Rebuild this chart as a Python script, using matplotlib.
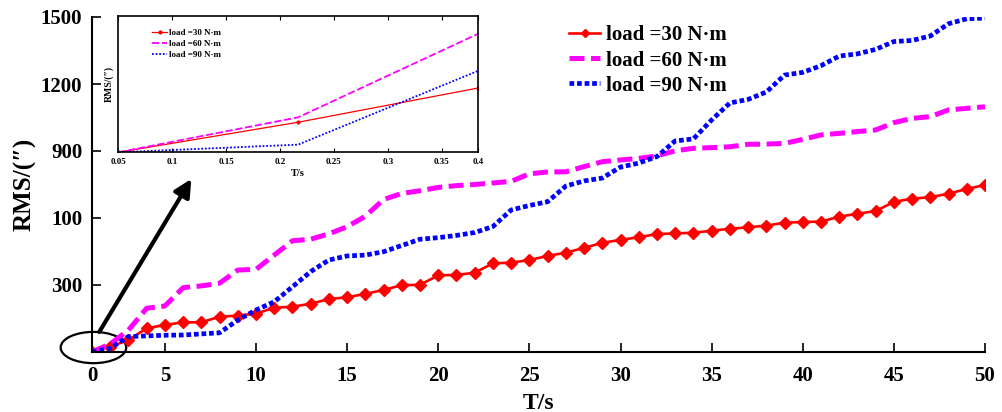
import matplotlib
matplotlib.use("Agg")
import matplotlib.pyplot as plt
from matplotlib.patches import Ellipse
import numpy as np

plt.rcParams['font.family'] = ['Liberation Serif', 'DejaVu Serif']
plt.rcParams['font.weight'] = 'bold'
plt.rcParams['mathtext.default'] = 'regular'

# ---------------- data ----------------
t = list(range(1, 51))
load30 = [0, 24, 54, 106, 121, 133, 133, 158, 163, 172, 198, 203, 216, 237, 245, 260, 278, 299, 301, 343,
          345, 355, 397, 400, 412, 430, 445, 466, 489, 502, 514, 528, 531, 534, 543, 552, 558, 566, 579, 582,
          584, 606, 619, 631, 672, 687, 693, 709, 730, 748]
load60 = [0, 36, 98, 196, 206, 288, 296, 308, 367, 370, 434, 498, 505, 529, 561, 608, 683, 710, 722, 737,
          745, 750, 757, 764, 798, 806, 807, 830, 852, 860, 867, 878, 901, 912, 915, 919, 930, 931, 934, 952,
          972, 979, 987, 994, 1027, 1046, 1054, 1084, 1091, 1098]
load90 = [0, 17, 69, 72, 75, 76, 81, 86, 143, 188, 225, 292, 360, 412, 430, 434, 449, 477, 505, 512,
          522, 535, 562, 636, 656, 673, 743, 766, 779, 828, 846, 875, 945, 954, 1039, 1115, 1131, 1164, 1240, 1252,
          1282, 1325, 1335, 1355, 1390, 1395, 1415, 1470, 1492, 1495]
labels = ['load =30 N·m', 'load =60 N·m', 'load =90 N·m']

xticks = [1, 5, 10, 15, 20, 25, 30, 35, 40, 45, 50]
xticklabels = ['0', '5', '10', '15', '20', '25', '30', '35', '40', '45', '50']
yticks = [300, 600, 900, 1200, 1500]
yticklabels = ['300', '100', '900', '1200', '1500']

# inset data
t_in = [0.05, 0.2167, 0.3833]
in30 = [0.0, 0.22, 0.47]
in60 = [0.0, 0.256, 0.866]
in90 = [0.0, 0.056, 0.595]
in_xticks = [0.05, 0.1, 0.15, 0.2, 0.25, 0.3, 0.35, 0.3833]
in_xticklabels = ['0.05', '0.1', '0.15', '0.2', '0.25', '0.3', '0.35', '0.4']

RED, MAG, BLUE = '#ff0000', '#ff00ff', '#0000ff'

W, H = 1003, 412
fig = plt.figure(figsize=(W / 100, H / 100), dpi=100)
ax = fig.add_axes([92 / W, 1 - 352 / H, (985 - 92) / W, (352 - 17) / H])

ax.plot(t, load30, color=RED, lw=1.9, marker='D', ms=6, label=labels[0])
ax.plot(t, load60, color=MAG, lw=3.6, ls=(0, (3, 1.3)), label=labels[1])
ax.plot(t, load90, color=BLUE, lw=3.4, ls=(0, (1, 0.6)), label=labels[2])

ax.set_xlim(1, 50)
ax.set_ylim(0, 1500)
ax.set_xticks(xticks)
ax.set_xticklabels(xticklabels)
ax.set_yticks(yticks)
ax.set_yticklabels(yticklabels)
ax.tick_params(direction='in', length=6.5, width=1.2, labelsize=15)
ax.tick_params(axis='x', pad=10)
ax.tick_params(axis='y', pad=7)
for s in ['top', 'right']:
    ax.spines[s].set_visible(False)
for s in ['left', 'bottom']:
    ax.spines[s].set_linewidth(1.5)
ax.set_xlabel('T/s', fontsize=17, fontweight='bold', labelpad=5)
ax.set_ylabel('RMS/(″)', fontsize=18, fontweight='bold', labelpad=3)

leg = ax.legend(loc='upper left', bbox_to_anchor=(0.525, 1.0), frameon=False,
                prop={'size': 15, 'weight': 'bold'}, handlelength=1.5, handletextpad=0.25,
                labelspacing=0.25, borderaxespad=0)
leg.legend_handles[0].set_markersize(4)

# ellipse + arrow
ell = Ellipse((1.08, 20), 3.6, 140, fill=False, edgecolor='k', lw=1.6, clip_on=False)
ax.add_patch(ell)
ax.annotate('', xy=(6.45, 775), xytext=(1.4, 90),
            arrowprops=dict(arrowstyle='-|>', lw=3, color='k', mutation_scale=26, shrinkA=0, shrinkB=0))

# inset
axi = fig.add_axes([118.3 / W, 1 - 152.3 / H, (477.7 - 118.3) / W, (152.3 - 15.7) / H])
axi.plot(t_in, in30, color=RED, lw=0.9, marker='.', ms=4, label=labels[0])
axi.plot(t_in, in60, color=MAG, lw=1.3, ls=(0, (4, 1.5)), label=labels[1])
axi.plot(t_in, in90, color=BLUE, lw=1.3, ls=(0, (1, 1)), label=labels[2])
axi.set_xlim(0.05, 0.3833)
axi.set_ylim(0, 1)
axi.set_xticks(in_xticks)
axi.set_xticklabels(in_xticklabels)
axi.set_yticks([])
axi.tick_params(axis='x', direction='in', length=3, width=0.8, labelsize=6.5, top=True, pad=4)
for s in axi.spines.values():
    s.set_linewidth(1.2)
axi.set_xlabel('T/s', fontsize=7.5, fontweight='bold', labelpad=2.5)
axi.set_ylabel('RMS/(″)', fontsize=7, fontweight='bold', labelpad=3)
axi.legend(loc='upper left', bbox_to_anchor=(0.085, 0.93), frameon=False,
           prop={'size': 6.5, 'weight': 'bold'}, handlelength=1.6, handletextpad=0.25,
           labelspacing=0.3, borderaxespad=0)

fig.savefig('out.png', dpi=100)
